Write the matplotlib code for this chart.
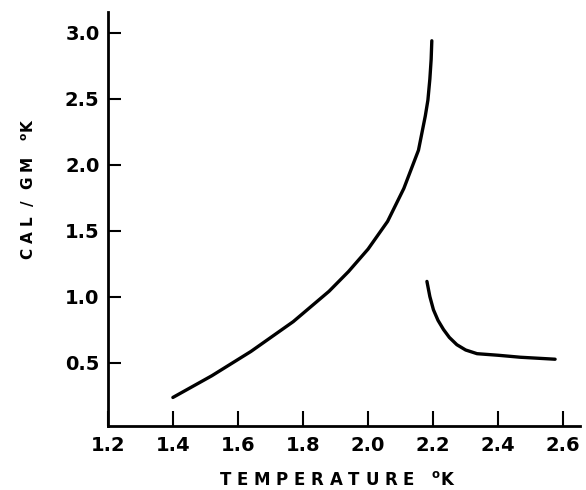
import matplotlib
matplotlib.use("Agg")
import matplotlib.pyplot as plt

# specific heat of liquid helium
temp_below = [1.40, 1.52, 1.64, 1.77, 1.88, 1.94, 2.00, 2.06, 2.11, 2.155, 2.176, 2.184, 2.19, 2.194, 2.196]
heat_below = [0.235, 0.40, 0.584, 0.81, 1.04, 1.19, 1.36, 1.57, 1.82, 2.11, 2.37, 2.49, 2.65, 2.80, 2.94]

temp_above = [2.181, 2.19, 2.201, 2.215, 2.232, 2.25, 2.273, 2.30, 2.335, 2.40, 2.468, 2.575]
heat_above = [1.115, 1.00, 0.90, 0.82, 0.75, 0.69, 0.635, 0.595, 0.567, 0.555, 0.54, 0.525]

xticks = [1.2, 1.4, 1.6, 1.8, 2.0, 2.2, 2.4, 2.6]
yticks = [0.5, 1.0, 1.5, 2.0, 2.5, 3.0]

fig = plt.figure(figsize=(5.86, 4.9), dpi=100)
ax = fig.add_axes([0.184, 0.131, 0.806, 0.845])

for t, c in [(temp_below, heat_below), (temp_above, heat_above)]:
    ax.plot(t, c, color='black', lw=2.4, solid_capstyle='round', solid_joinstyle='round')

ax.set_xlim(1.2, 2.652)
ax.set_ylim(0.02, 3.16)
ax.set_xticks(xticks)
ax.set_xticklabels([f'{v:.1f}' for v in xticks], fontweight='bold')
ax.set_yticks(yticks)
ax.set_yticklabels([f'{v:.1f}' for v in yticks], fontweight='bold')

for s in ['top', 'right']:
    ax.spines[s].set_visible(False)
for s in ['left', 'bottom']:
    ax.spines[s].set_linewidth(2.0)

ax.tick_params(axis='x', direction='in', length=10.8, width=1.5, pad=7, labelsize=14)
ax.tick_params(axis='y', direction='in', length=9, width=1.5, pad=6, labelsize=14)

ax.set_xlabel(r'T E M P E R A T U R E   $^{\mathbf{o}}$K', fontsize=12, fontweight='bold')
ax.set_ylabel(r'C A L  /  G M   $^{\mathbf{o}}$K', fontsize=11, fontweight='bold')
ax.xaxis.set_label_coords(0.487, -0.108)
ax.yaxis.set_label_coords(-0.15, 0.57)

fig.savefig('out.png', dpi=100)
